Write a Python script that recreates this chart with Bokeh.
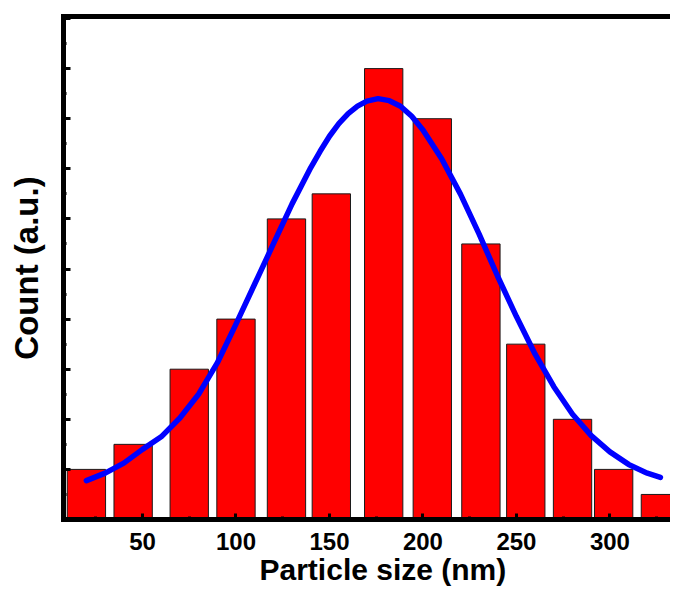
from bokeh.plotting import figure
from bokeh.models import (LinearAxis, SingleIntervalTicker, FixedTicker, Range1d,
                          Title, CustomJSTickFormatter)
from bokeh.embed import file_html
from bokeh.resources import INLINE

# Histogram bins (bar centres, nm) and counts
bin_centers = [20, 45, 75, 100, 127, 151, 179, 205, 231, 255, 280, 302, 327]
counts = [2, 3, 6, 8, 12, 13, 18, 16, 11, 7, 4, 2, 1]
bar_width = 20.5

# Fitted distribution curve
fit_x = [20, 30, 40, 50, 60, 70, 80, 90, 100, 110, 120, 130, 140, 145, 150, 155, 160, 165, 170, 176,
         182, 188, 194, 200, 210, 220, 230, 240, 250, 260, 270, 280, 290, 300, 310, 320, 327]
fit_y = [1.55, 1.85, 2.25, 2.8, 3.3, 4.05, 5.0, 6.25, 7.8, 9.4, 11.0, 12.6, 14.05, 14.7, 15.3, 15.8,
         16.2, 16.5, 16.7, 16.8, 16.72, 16.5, 16.1, 15.55, 14.4, 13.0, 11.4, 9.7, 8.1, 6.6, 5.3,
         4.2, 3.35, 2.7, 2.2, 1.85, 1.68]

x_tick_interval = 50
y_tick_interval = 2

FONT = "Liberation Sans"

p = figure(width=670, height=589,
           x_range=Range1d(7.75, 332.4), y_range=Range1d(0, 20.08),
           output_backend="svg", toolbar_location=None,
           min_border_left=63, min_border_right=0, min_border_top=16, min_border_bottom=70)
p.xgrid.visible = False
p.ygrid.visible = False
p.outline_line_color = None
p.background_fill_color = "white"
p.border_fill_color = "white"

p.vbar(x=bin_centers, width=bar_width, top=counts, bottom=0,
       fill_color="#FF0000", line_color="#1a1a1a", line_width=1)
p.line(fit_x, fit_y, line_color="#0000FF", line_width=5.5, line_cap="round", line_join="round")

# bottom axis
xa = p.xaxis[0]
xa.ticker = SingleIntervalTicker(interval=x_tick_interval, num_minor_ticks=2)
xa.axis_line_width = 5
xa.axis_line_color = "black"
xa.axis_line_cap = "square"
xa.major_tick_in = 6
xa.major_tick_out = 0
xa.major_tick_line_width = 3
xa.minor_tick_in = 3
xa.minor_tick_out = 0
xa.minor_tick_line_width = 3
xa.major_label_text_font = FONT
xa.major_label_text_font_style = "bold"
xa.major_label_text_font_size = "24px"
xa.major_label_text_color = "black"
xa.major_label_standoff = 13

# left axis
ya = p.yaxis[0]
ya.ticker = SingleIntervalTicker(interval=y_tick_interval, num_minor_ticks=2)
ya.formatter = CustomJSTickFormatter(code="return ''")
ya.axis_line_width = 5
ya.axis_line_color = "black"
ya.axis_line_cap = "square"
ya.major_tick_in = 7
ya.major_tick_out = 0
ya.major_tick_line_width = 3
ya.minor_tick_in = 3
ya.minor_tick_out = 0
ya.minor_tick_line_width = 3
ya.major_label_standoff = 0
ya.axis_label = "Count (a.u.)"
ya.axis_label_text_font = FONT
ya.axis_label_text_font_style = "bold"
ya.axis_label_text_font_size = "33px"
ya.axis_label_text_color = "black"
ya.axis_label_standoff = 19

# top frame line
top = LinearAxis(ticker=FixedTicker(ticks=[], minor_ticks=[]),
                 major_label_standoff=0,
                 major_tick_line_color=None, minor_tick_line_color=None,
                 axis_line_width=5, axis_line_color="black", axis_line_cap="square")
p.add_layout(top, "above")

# x axis title
p.add_layout(Title(text="Particle size (nm)", align="left", offset=196, standoff=-4,
                   text_font=FONT, text_font_style="bold", text_font_size="30px",
                   text_color="black"), "below")

open("out.html", "w").write(file_html(p, INLINE))
